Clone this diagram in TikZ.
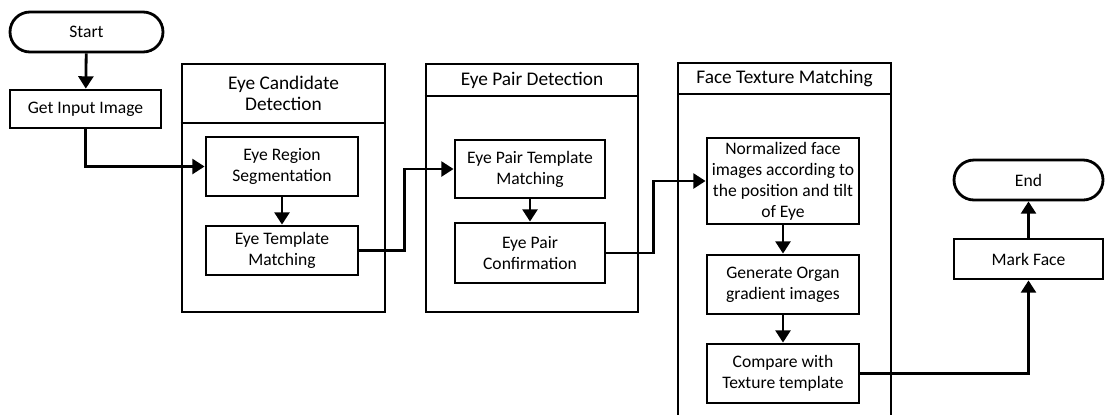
\documentclass[tikz,border=0pt]{standalone}
\usepackage{fontspec}
\setmainfont{Carlito}
\usetikzlibrary{arrows.meta}
\begin{document}
\begin{tikzpicture}[x=0.02cm,y=-0.02cm,
  line width=1.6pt,
  every node/.style={font=\fontsize{10}{12}\selectfont, align=center, inner sep=1pt},
  head/.style={font=\fontsize{11}{12.3}\selectfont},
  proc/.style args={#1/#2}{draw, rectangle, minimum width=#1*0.02cm, minimum height=#2*0.02cm},
  term/.style args={#1/#2}{draw, rectangle, rounded corners=0.4cm, minimum width=#1*0.02cm, minimum height=#2*0.02cm},
  group/.style args={#1/#2}{draw, rectangle, minimum width=#1*0.02cm, minimum height=#2*0.02cm},
  flow/.style={-{Triangle[length=7pt,width=8.5pt]}}
]
\useasboundingbox (0,0) rectangle (1105,414);

% outer group boxes
\node[group=203/248] (ecd) at (283.5,188) {};
\draw (ecd.west |- 0,123) -- (ecd.east |- 0,123);
\node[head] (ecdh) at (283.5,93.5) {Eye Candidate\\Detection};

\node[group=212/248] (epd) at (532,188) {};
\draw (epd.west |- 0,96) -- (epd.east |- 0,96);
\node[head] (epdh) at (532,80) {Eye Pair Detection};

\coordinate (ftmbl) at (678,416);
\coordinate (ftmbr) at (891,416);
\draw (ftmbl) -- (678,63) -- (891,63) -- (ftmbr);
\draw (678,94) -- (891,94);
\node[head] (ftmh) at (784.5,78.5) {Face Texture Matching};

% nodes
\node[term=153/40] (start) at (86.5,32) {Start};
\node[proc=151/38] (get) at (85.5,109) {Get Input Image};
\node[proc=152/59] (ers) at (282,166.5) {Eye Region\\Segmentation};
\node[proc=152/49] (etm) at (282,250.5) {Eye Template\\Matching};
\node[proc=150/58] (eptm) at (530,169) {Eye Pair Template\\Matching};
\node[proc=150/60] (epc) at (530,253) {Eye Pair\\Confirmation};
\node[proc=152/86] (norm) at (783,181) {Normalized face\\images according to\\the position and tilt\\of Eye};
\node[proc=152/59] (gen) at (783,284.5) {Generate Organ\\gradient images};
\node[proc=152/59] (cmp) at (783,373.5) {Compare with\\Texture template};
\node[proc=149/40] (mark) at (1028.5,259) {Mark Face};
\node[term=149/40] (end) at (1028.5,180) {End};

% connectors
\draw[flow] (start) -- (get);
\draw[flow] (get.south) |- (ers.west);
\draw[flow] (ers) -- (etm);
\draw[flow] (etm.east) -- ++(45,0) |- (eptm.west);
\draw[flow] (eptm) -- (epc);
\draw[flow] (epc.east) -- ++(47,0) |- (norm.west);
\draw[flow] (norm) -- (gen);
\draw[flow] (gen) -- (cmp);
\draw[flow] (cmp.east) -| (mark.south);
\draw[flow] (mark) -- (end);
\end{tikzpicture}
\end{document}
